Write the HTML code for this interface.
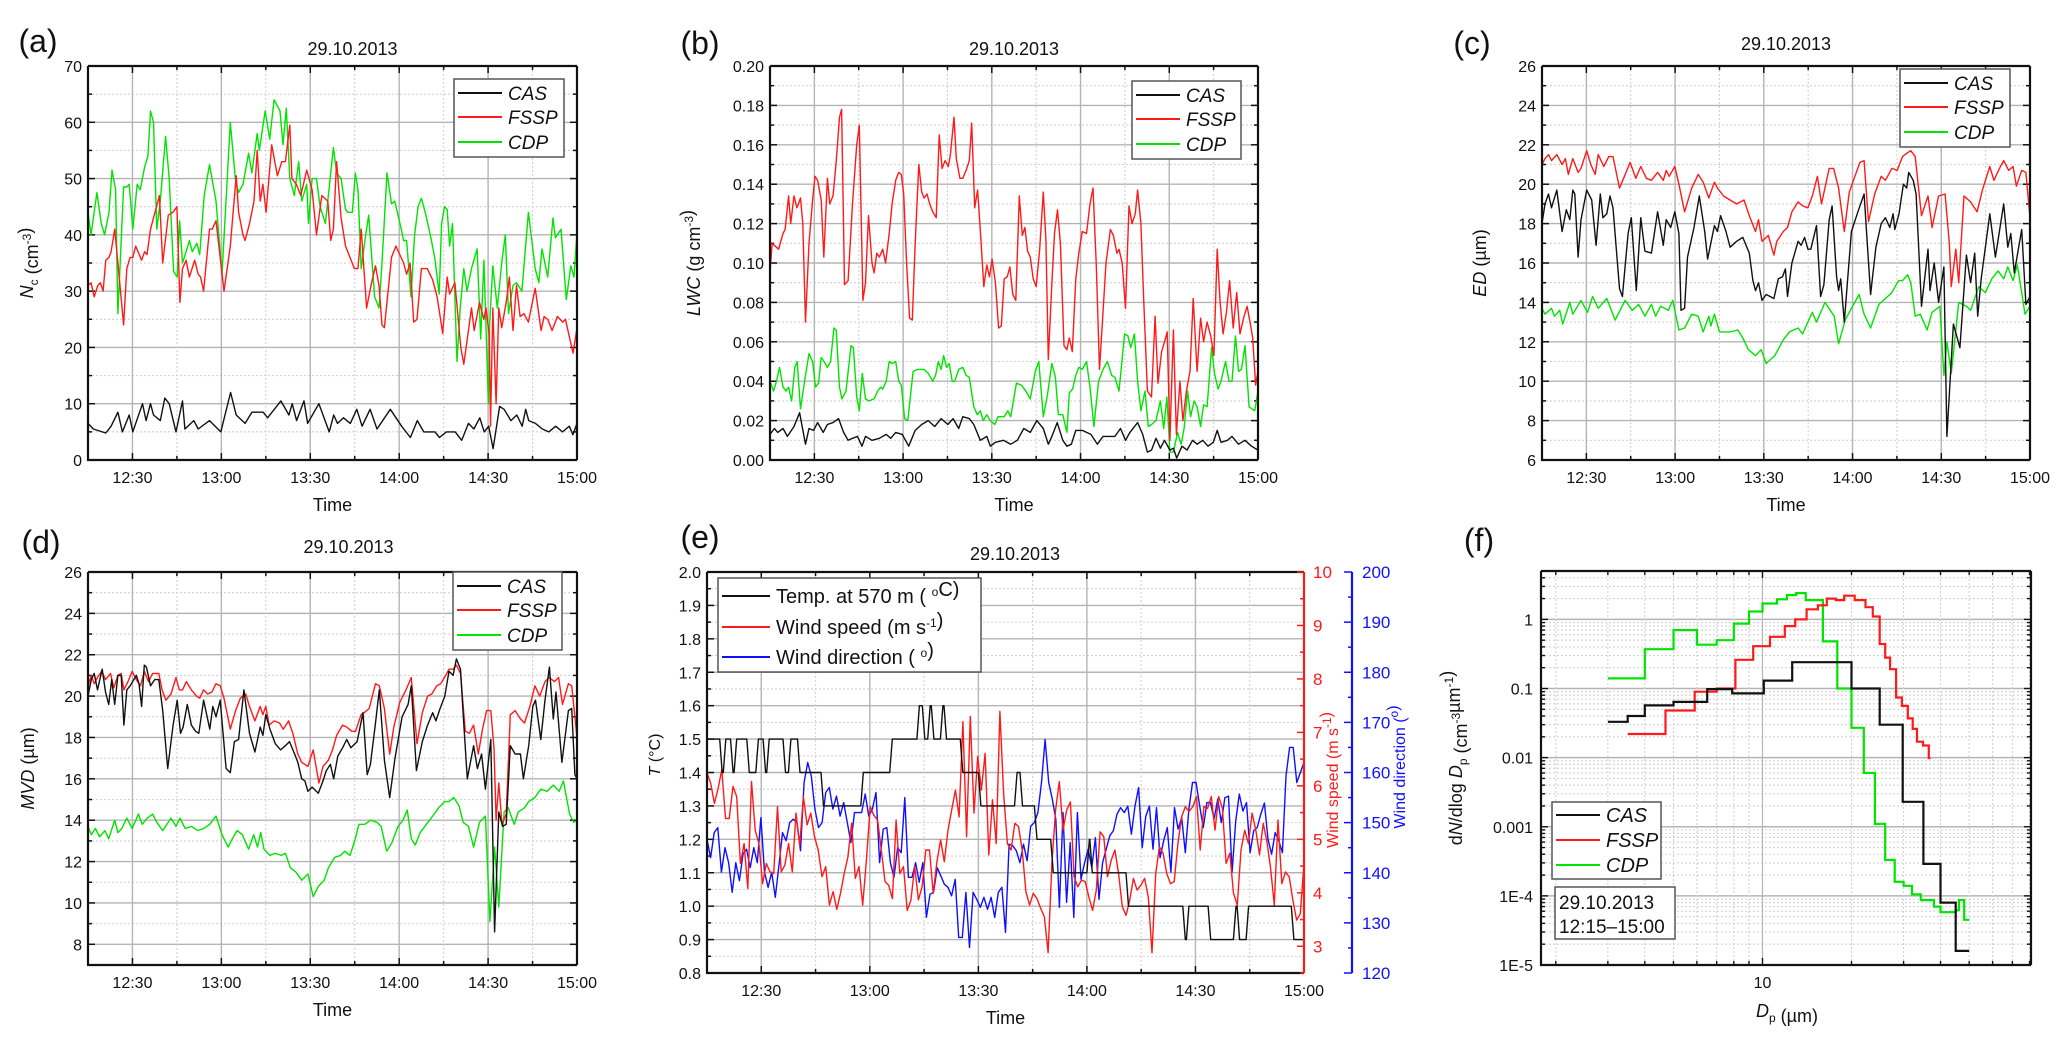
<!DOCTYPE html>
<html><head><meta charset="utf-8"><title>29.10.2013 cloud microphysics</title>
<style>
html,body{margin:0;padding:0;background:#fff;}
svg{display:block;font-family:"Liberation Sans",Arial,sans-serif;}
</style></head>
<body>
<svg id="fig" xmlns="http://www.w3.org/2000/svg" width="2067" height="1049" viewBox="0 0 2067 1049">
<rect x="0" y="0" width="2067" height="1049" fill="#fff"/>
<g id="pa"></g>
<g id="pb"></g>
<g id="pc"></g>
<g id="pd"></g>
<g id="pe"></g>
<g id="pf"></g>
</svg>
<script>
// ---------- DATA ----------
const timeTickMinutes=[15,45,75,105,135,165];
const timeTickLabels=['12:30','13:00','13:30','14:00','14:30','15:00'];

const aCAS=[[0,6.5],[1.8,5.5],[6,4.8],[7.8,6],[10.1,8.5],[11.6,5],[13.9,8],[15.1,5],[18.4,10],[19.6,7],[21.1,10],[22.1,8],[24.4,7],[25.9,11],[27.4,10],[29.7,5],[31.9,10.5],[32.7,5.5],[35.7,7],[37.2,5.5],[41,7],[44.8,5],[48.1,12],[50,8],[53,6.5],[55.3,8.5],[59.1,8.5],[60.6,7.5],[65.1,10.5],[67.8,8],[68.9,10],[70.4,7],[72.9,10.5],[74.1,6.5],[77.9,10],[81.4,5],[82.9,8],[84.2,6.5],[86.2,7.5],[88.5,6.5],[90.7,9],[92.5,6],[95.2,9],[97.5,5.5],[102,9],[105.8,6],[108.8,4],[111.1,7],[113.3,5],[117.1,5],[118.6,4],[120.9,5],[123.9,5],[126.1,3.5],[128.4,6.5],[130.2,5.5],[132.2,7.5],[133.7,5],[135.2,6],[136.7,2],[138.9,9.5],[140.4,9],[142.7,7],[144.7,8],[146.5,6],[147.7,9],[148.7,7],[151,6.5],[153.3,5.5],[155.5,5],[157.8,6],[160.1,5],[162.4,6],[163.6,4.5],[165,6.5]];
const aFSSP=[[0,31],[1,31.5],[2.1,29],[3.3,31],[4.2,31.5],[5.1,30],[6,35.5],[7.1,36],[7.8,37],[9,41],[10.1,35],[12,24],[13.1,34],[14.2,36],[15.1,36],[16.1,38],[18.1,35.5],[19.1,37],[19.9,36.5],[21.1,41],[22.1,43],[24.1,47],[25.2,35],[27.1,43.5],[28.6,44],[30,45],[31,28],[31.9,34],[33.1,35.5],[34.2,32.5],[36,35.5],[37.2,33],[38,32.5],[39,30],[41,41],[41.9,41],[43.2,42.5],[45.9,30],[48,38],[50,50.5],[50.8,44],[52.3,40],[53,39],[54.5,42],[56,46],[57.1,55],[58.1,46],[59,49],[60.1,44],[62,56],[63.9,50.5],[65.4,53],[66.6,53],[68.1,59.5],[68.8,50],[70.3,49],[71.8,47],[73.8,51.5],[75.6,48],[77.1,40],[78.9,47],[80.9,46],[81.9,39],[82.8,41],[83.9,53],[85.4,43],[86.9,38],[89.9,34],[91.1,34],[92.2,41],[94,27],[95.5,31],[97,34.5],[98.2,31],[99.2,24],[100,23.5],[102.4,36],[103.9,38],[106.5,35],[107.5,33],[108.7,35],[109.9,24.5],[111,25],[112.5,34],[114.5,34],[116.3,32],[117.8,29],[119.7,22.5],[121.2,32.5],[122,29.5],[123.8,31.5],[125.8,20],[126.8,17],[129.4,27],[130.3,23],[132.1,28],[133.6,25],[134.3,27],[135.4,22],[135.8,6],[136.6,27],[137.7,10],[138.6,27],[139.6,23.5],[141.1,28],[142.2,32.5],[143.4,23],[144.6,31],[145.8,25.5],[147.1,26],[148.6,24.5],[150.9,30.5],[152.9,23],[153.9,25.5],[155.1,25],[156.6,23],[158.4,25.5],[160.2,24.5],[161.1,25],[163.7,19],[165,23.5]];
const aCDP=[[0,44],[1,40],[3,47.5],[4.5,42],[5.6,40],[7.1,44],[8.1,51.5],[9.3,48],[10.1,26],[12,48.5],[13.1,48.5],[13.9,49],[15.1,41],[16.6,49],[17.6,48],[19.1,52],[20.2,54],[21.1,62],[22.1,60],[23.2,41],[24.4,46],[26.2,57.5],[27.4,50],[28.9,33.5],[30.1,32.5],[30.9,42.5],[31.9,35],[33.1,37],[34.2,39],[35.2,37],[36.7,38.5],[37.7,36.5],[39.2,47],[41,52.5],[43.2,46],[45.2,33],[48,60],[49.7,50],[50.8,47.5],[52.3,49],[54.2,54.5],[55.3,51],[57.1,58],[57.8,55],[59.8,62],[61.3,57],[62.8,64],[64.8,62],[65.8,56],[66.9,62.5],[68.1,50],[69.6,47],[71.1,53],[72.1,46],[73.8,49],[74.4,42],[75.6,50],[77.1,50],[78.3,45],[80.1,42],[82.8,55.5],[83.9,51],[85.4,50],[86.9,44.5],[87.7,44],[89.2,44],[90.2,51],[91.1,48],[92.2,34],[93.7,40],[94.7,43.5],[96.7,29],[98.2,27],[99.2,35],[100.9,51],[102.4,45.5],[103.5,46],[105.7,41],[106.5,39],[107.5,39],[109,29],[110.2,40],[111.4,45],[112.5,46.5],[114,43.5],[115.5,40],[117,36],[118.5,29.5],[119.3,42],[120.3,45],[121.2,44.5],[122,38],[123,42],[124.5,17.5],[125.6,27],[126.8,34],[127.9,30],[129.4,34],[131.3,37.5],[132.5,21.5],[133.6,35.5],[135.1,10],[135.5,24],[136.6,34.5],[138.1,27],[139.6,35],[140.8,40],[141.9,26],[143.4,31],[144.6,31.5],[146.4,30],[148.6,44],[150.9,34],[152.1,31.5],[153.2,37.5],[155.1,32.5],[156.9,43],[157.7,39.5],[159.6,41],[161.4,28.5],[162.9,34.5],[164,32.5],[165,40.5]];

const bCAS=[[0,.013],[1.5,.016],[2.6,.014],[4.4,.016],[5.9,.012],[8.1,.017],[10,.024],[12,.008],[13.2,.016],[14.7,.015],[16.1,.019],[18,.014],[19.4,.018],[21.3,.019],[23.2,.021],[24.9,.014],[26.4,.01],[27.9,.011],[29.6,.012],[31.1,.007],[32.3,.012],[34.5,.01],[37,.011],[39.3,.013],[40.8,.011],[42.5,.014],[44.7,.013],[46.9,.007],[49.1,.015],[51.3,.018],[53.5,.02],[55.7,.017],[57.9,.021],[60.1,.018],[61.9,.021],[63.8,.016],[65.2,.022],[67.4,.021],[68.9,.018],[71.1,.01],[73.3,.012],[74.5,.007],[76.2,.009],[78.9,.01],[81.4,.008],[83.6,.01],[85.8,.016],[88,.014],[90.2,.02],[92.4,.016],[94.1,.008],[95.3,.012],[97.1,.019],[99,.01],[100.4,.007],[101.9,.008],[103.4,.015],[105.6,.015],[108.5,.013],[110.7,.008],[112.6,.012],[114.4,.012],[116.6,.012],[118.5,.016],[120.2,.01],[121.7,.014],[124.3,.019],[126,.013],[127.6,.004],[129,.005],[130.5,.011],[132,.006],[133.4,.01],[135.2,.005],[136.4,.006],[137.5,.001],[139.3,.007],[141,.005],[142.9,.01],[144.4,.008],[146.3,.01],[148.1,.007],[149.9,.009],[151.2,.015],[152.5,.009],[154.7,.01],[156.2,.012],[158.4,.008],[160.6,.01],[162.8,.007],[165,.005]];
const bFSSP=[[0,.095],[.7,.11],[2.9,.107],[4.4,.115],[5.1,.117],[6.3,.134],[7,.12],[8.1,.134],[9.1,.128],[10.3,.133],[11.1,.12],[12,.07],[13.2,.11],[14.4,.132],[15.2,.144],[16.1,.142],[17.3,.132],[18.2,.103],[19.4,.143],[20.2,.13],[21.3,.134],[22.3,.15],[23.5,.174],[24.2,.178],[25.2,.089],[26.4,.091],[27.9,.13],[29.3,.16],[30.2,.17],[31.4,.081],[32.3,.09],[33.3,.124],[34.5,.1],[35.2,.095],[36.1,.105],[37,.103],[38.1,.107],[39.1,.1],[40.3,.115],[41.3,.13],[42.5,.142],[43.5,.146],[44.4,.145],[45.2,.135],[46.2,.1],[47.2,.072],[48.1,.071],[49.1,.11],[50.3,.15],[51.3,.136],[52.1,.133],[53.1,.135],[54,.13],[55,.126],[56.2,.123],[57.2,.165],[58.2,.148],[59.2,.152],[60.3,.149],[61,.155],[62.2,.174],[63,.153],[64.2,.143],[65.2,.143],[66.3,.147],[67.4,.152],[68.2,.171],[69.2,.128],[70.2,.137],[71.3,.112],[72.3,.088],[73.3,.099],[74.2,.093],[75.1,.102],[76.2,.09],[77.3,.067],[78.2,.068],[79.2,.092],[80.2,.093],[81.1,.098],[82.1,.084],[83.1,.081],[84.3,.134],[85.3,.114],[86.2,.118],[87.1,.106],[88,.103],[89,.092],[90,.088],[91.2,.107],[92.4,.136],[93.3,.112],[94.1,.051],[95.3,.09],[96.2,.115],[97.2,.127],[98.2,.11],[99.4,.058],[100.4,.056],[101.2,.062],[102.2,.055],[103.4,.092],[104.4,.105],[105.6,.116],[107,.115],[108.2,.13],[109.2,.138],[110.3,.1],[111.4,.046],[112.6,.075],[113.6,.1],[115.1,.117],[116.1,.114],[117.3,.105],[118,.107],[119.1,.1],[120.2,.077],[121.4,.129],[122.4,.12],[123.5,.125],[124.3,.137],[125.4,.12],[126.4,.08],[127.6,.035],[129,.032],[130.2,.073],[131.2,.039],[132.4,.055],[133.4,.06],[134.3,.065],[135.2,.01],[136.4,.066],[137.4,.013],[138.6,.04],[139.6,.02],[140.8,.035],[142,.045],[143.1,.082],[144.4,.045],[145.6,.072],[146.6,.06],[147.8,.07],[149,.063],[150.1,.053],[151.2,.107],[152.2,.08],[153.2,.064],[154.3,.075],[155.4,.091],[156.6,.067],[157.8,.085],[158.9,.064],[160.1,.072],[161.3,.078],[162.3,.07],[163.2,.062],[164.2,.038],[165,.045]];
const bCDP=[[0,.04],[1.2,.035],[2.2,.04],[3.2,.047],[4.4,.037],[5.4,.035],[6.3,.037],[7.3,.03],[8.4,.047],[9.2,.05],[10.3,.026],[11.7,.04],[13.2,.054],[14.4,.05],[15.4,.037],[16.4,.039],[17.3,.052],[18.3,.05],[19.4,.047],[20.5,.05],[21.6,.067],[22.4,.066],[23.5,.037],[24.3,.031],[25.7,.035],[27.4,.058],[28.2,.057],[29.3,.032],[30.2,.025],[31.2,.044],[32.3,.031],[33.4,.03],[35.2,.031],[36.4,.035],[37.4,.037],[38.1,.036],[39.3,.04],[40.3,.05],[41.3,.049],[42.5,.05],[43.5,.04],[44.4,.038],[45.5,.021],[46.6,.02],[48.4,.045],[49.9,.046],[52.1,.046],[53.5,.044],[55,.04],[56,.043],[56.9,.05],[57.9,.046],[58.7,.053],[59.7,.047],[60.6,.049],[61.6,.04],[62.5,.04],[63.8,.046],[65.2,.047],[66.3,.043],[67.4,.042],[68.9,.027],[70.1,.023],[71.1,.025],[72.1,.02],[73.3,.023],[74.5,.02],[76,.018],[77.1,.022],[79.2,.022],[80.4,.025],[81.4,.022],[83.3,.039],[85,.038],[86.5,.035],[88,.031],[89.7,.045],[90.9,.05],[92.4,.022],[93.8,.033],[95.3,.049],[96.5,.042],[97.5,.023],[99,.023],[100.4,.014],[101.2,.034],[102.3,.036],[103.4,.043],[104.4,.047],[105.6,.046],[107,.05],[108.2,.037],[109.5,.017],[111.1,.04],[112.6,.046],[114.1,.05],[115.5,.043],[116.6,.042],[118,.035],[119.9,.064],[121,.063],[122,.057],[123.2,.064],[124.3,.04],[125.4,.025],[126.8,.035],[127.9,.017],[129,.018],[130.5,.02],[132,.03],[133.1,.016],[134.2,.032],[135.2,.004],[136.4,.004],[137.8,.014],[139,.008],[140,.016],[141.2,.035],[142.2,.022],[143.4,.03],[144.4,.027],[145.6,.017],[146.6,.028],[147.8,.027],[149.3,.057],[150.3,.044],[151.5,.036],[152.5,.04],[154,.05],[155.2,.04],[156.2,.04],[157.4,.063],[158.4,.045],[159.4,.046],[160.6,.058],[162,.027],[163.9,.025],[165,.035]];

const cCAS=[[0,18],[1,19],[2.2,19.5],[3.2,18.8],[5,19.7],[6.8,17.6],[8.2,18.7],[9.4,18.2],[10.4,19.7],[11.1,19.5],[12.2,16.3],[13.2,18.2],[15.1,19.7],[16.8,19.2],[18.3,16.9],[19.7,19.5],[20.6,18.3],[21.9,18.5],[23,19.4],[24,18.8],[26.2,14.7],[27.2,14.3],[29.1,17.5],[30.2,18.3],[31.9,14.6],[33.4,18.3],[34.8,16.6],[37,16.5],[39.1,18.6],[41,16.9],[42,18.2],[43.5,17.8],[44.9,18.6],[46.3,17.5],[47,13.6],[48.2,13.7],[49.2,16.3],[51.4,17.8],[53.2,19.4],[55,17.6],[56,16.2],[58.3,17.9],[59.3,17.6],[60.4,18.4],[62.2,17.6],[63.6,16.8],[65.8,17.1],[67.9,17.3],[70.1,16.5],[71.3,15.1],[72.2,14.6],[73.2,15],[74.4,14.1],[75.8,14.4],[78.4,14.2],[79.9,15.2],[81.3,15.3],[82.3,15.7],[83,14.3],[84.5,16],[86.6,17.1],[87.6,16.9],[88.8,17.3],[89.9,16.7],[90.9,16.7],[92.8,17.9],[94.2,14.3],[95.3,14.9],[97.1,18.2],[98.1,18.9],[99.6,15.3],[100.3,14.6],[101,15.2],[102.2,13],[104.6,17.6],[106.8,18.6],[108.9,19.5],[111.1,14.4],[112.9,16.8],[114.7,18],[116.1,18.3],[117.6,17.8],[118.7,18.5],[119.3,17.7],[120.7,18.5],[122.2,20],[123.3,19.8],[124,20.6],[125.5,20.2],[126.5,19.5],[128.3,13.8],[130.5,16.7],[131.2,14.6],[132.6,16],[134.1,14],[135.9,15.8],[136.9,7.2],[139.1,12.9],[141.3,11.7],[143.5,16.4],[144.9,15],[146.3,16.5],[147.3,13.3],[148.5,15.2],[151.4,18.5],[153.3,16.3],[156.1,19],[157.5,16.8],[158.5,17.5],[159.7,15.5],[162.2,17.7],[163.6,13.9],[165,14.3]];
const cFSSP=[[0,21],[1,21.3],[2.2,21.5],[3.2,21.2],[5,21.5],[6.8,21],[7.9,21.3],[8.9,20.5],[10.4,21.3],[12.2,20.6],[13.2,20.8],[15.1,21.7],[16.5,21],[18,20.5],[19,21.5],[20.9,20.9],[22.6,21.4],[24,21.4],[26.2,19.8],[27.6,20.3],[29.8,21.1],[31.7,20.3],[33.4,20.9],[35.3,20.3],[37,20.2],[39.1,20.6],[41,20.2],[42,20.7],[43,20.4],[44.9,20.9],[46.3,20],[48.2,18.6],[50.6,19.8],[52.8,20.5],[54.5,20.1],[56.4,19.3],[58.3,20.1],[59.3,19.8],[61.4,19.4],[63.6,19.2],[65.8,19],[68.3,19.2],[70.1,18.4],[72.2,17.6],[73.2,18.2],[74.4,17.1],[76.5,17.4],[78.4,16.4],[79.4,17.1],[81.6,17.6],[83,17.8],[84.5,18.6],[86.6,19.1],[88.1,18.9],[89.9,18.8],[91.4,19.4],[93.1,20.4],[94.5,19],[97.1,20.8],[98.6,20.8],[100.3,19.8],[102.2,17.6],[103.9,19.6],[105.8,20.4],[107.5,21.1],[108.9,21.2],[110.4,18.1],[112.5,19.5],[114.7,20.4],[116.1,20.2],[118.3,20.8],[120.1,20.7],[121.9,21.4],[123.6,21.6],[124.7,21.7],[126.2,21.4],[128.3,18.4],[130.5,19.4],[131.9,17.8],[134.1,19.4],[136.3,19.5],[137.7,17],[138.4,14.8],[139.9,16.7],[140.9,15],[142.7,19.4],[144.9,19.1],[147.1,18.6],[148.9,19.7],[151.4,20.9],[152.8,20.2],[155,20.9],[156.1,21.2],[157.8,20.7],[159.3,20.9],[160.4,19.9],[162.2,20.7],[163.6,20.6],[165,18.3]];
const cCDP=[[0,13.7],[1,13.4],[3.2,13.7],[4.2,13.3],[6,13.6],[7,12.9],[9.4,14],[10.4,13.4],[13.2,14.1],[15.4,13.5],[17.1,14.3],[19,13.7],[21.9,14.2],[24.7,13.1],[28.1,14.1],[30.5,13.6],[32.7,13.9],[34.8,13.3],[37,13.9],[38.4,13.3],[40.1,13.8],[42.7,13.6],[44.2,14.1],[46.3,12.6],[48.2,12.7],[50.6,13.4],[52.8,13.3],[54.5,12.5],[56.4,13.3],[57.1,12.8],[58.3,13.4],[60,12.5],[63.6,12.5],[66.2,12.6],[67.9,12.2],[69.8,11.6],[72.2,11.3],[74.1,11.6],[75.8,10.9],[78.7,11.3],[81.6,12.1],[83.7,12.5],[86.6,12.7],[88.1,12.4],[91.4,13.5],[92.8,13],[95.7,14],[98.8,13.3],[100.3,11.9],[102.5,13.1],[104.6,13.7],[107.2,14.4],[108.9,13.4],[111.1,12.7],[113.9,13.9],[116.1,14.2],[118.3,14.5],[120.5,15.1],[121.9,15.1],[123.6,15.4],[124.7,15],[126.2,13.3],[127.9,13.4],[130.2,12.6],[131.9,13.5],[134.5,13.8],[135.9,10.3],[136.9,12],[138.4,10.4],[140.9,14],[143.5,13.8],[144.9,13.6],[147.7,14.8],[149.9,14.5],[152.1,15.2],[154.2,15.6],[156.1,15.2],[157.5,15.8],[159.3,15.1],[160.7,15.9],[162.2,14.5],[163.3,13.4],[165,13.8]];

const dCAS=[[0,20],[1.1,20.8],[2.1,21.1],[3.2,20.3],[4.8,21.3],[5.9,20.2],[7,19.6],[8,20.8],[9,19.6],[10.1,21],[11.2,21],[12.1,18.6],[13.1,20.3],[14.2,20.5],[16.3,21],[17.2,20.6],[18.1,19.5],[19,21.5],[19.7,21.4],[21.1,20.5],[22.5,20.8],[23.9,20.8],[25.2,19.3],[26.9,16.5],[28.7,18.6],[30.1,19.8],[31.2,18.2],[32.1,18.5],[33.5,19.6],[34.9,18.6],[36.3,18.3],[37.4,18.2],[39,19.8],[41.1,18.4],[42.1,19.5],[43.2,19],[44.6,19.8],[46.6,16.5],[48,16.3],[49.4,17.8],[50.8,17.9],[52.6,20.3],[54.5,18.2],[56.3,17.3],[58.1,18.5],[59,18.1],[60,19.1],[61.4,18.4],[63.2,17.7],[65,17.4],[66.6,17.6],[68,17.8],[69.7,17.2],[70.8,16.8],[72.1,16],[73.2,15.9],[74.2,15.4],[75.6,15.6],[77.7,15.3],[79.3,15.9],[80.4,16.4],[81.8,16.7],[82.9,16],[84.3,17.1],[85.9,17.5],[87.3,17.9],[88.7,17.5],[90.8,17.8],[92.8,19.2],[94.2,16.2],[95.3,16.7],[97,18.7],[98.3,20.3],[100,16.9],[101.8,15.1],[103.6,17],[106,19],[108,19.6],[109.1,20.5],[110.8,16.4],[112.8,17.8],[114.6,18.6],[116.3,19.2],[117.4,18.8],[118.8,19.4],[120.4,20],[121.8,21.2],[123.2,21],[124.3,21.8],[125.7,21.3],[126.6,19.1],[128,16],[130.1,17.6],[131.4,16.5],[132.8,17.2],[134.1,15.5],[135.9,17.9],[137.2,8.6],[138.6,14.4],[139.9,13.7],[141.1,13.8],[142.5,17.6],[144.1,17.2],[145.9,17.2],[146.9,16],[148.7,17.6],[150.1,19.5],[151,19.8],[152.8,17.9],[154.2,19.8],[155.7,21.4],[157,18.9],[157.9,20.2],[159.9,16.8],[162.1,19.3],[163.2,19.4],[164.3,16.2],[165,16]];
const dFSSP=[[0,20.5],[1.1,21],[2.1,20.6],[3.2,20.9],[4.6,21.2],[5.9,20.8],[7.6,21.1],[8.7,20.4],[10.1,21],[11.2,21.1],[12.1,20.3],[13.5,20.7],[14.9,21.2],[16.3,20.8],[17.7,20.5],[19,21.2],[20.4,20.7],[21.8,21.1],[23.9,21.1],[25,20.3],[26.3,19.8],[28,20.1],[29.7,20.9],[30.8,20.3],[31.9,20.3],[33.2,20.7],[34.9,20.3],[36.6,20],[37.7,19.9],[39,20.3],[40.4,20.1],[41.8,20.2],[43.2,20.6],[44.6,20.5],[45.9,19.9],[48,18.4],[49.8,19.3],[51.4,19.9],[53.2,20.1],[54.5,19.5],[56.3,18.8],[58.1,19.5],[59,19.1],[60,19.5],[61.1,18.6],[62.8,18.8],[64.6,18.7],[65.9,18.4],[67.7,18.8],[69.1,18.2],[70.8,17.2],[72.1,16.8],[74.2,16.6],[76,17.4],[77.9,15.8],[79.3,16.6],[81.1,16.9],[82.5,17.4],[83.9,18.1],[85.9,18.6],[87.3,18.5],[89,18.3],[90.3,18.3],[92.1,19.1],[93.2,19.2],[94.9,19.4],[97,20.6],[98.3,20.5],[100,19.4],[101.8,17.2],[103.2,18.5],[105.2,19.7],[107.3,20.3],[109.1,20.9],[111,17.7],[112.8,19.2],[114.6,20],[116,20.1],[117.7,20.5],[119,20.6],[120.7,21],[121.8,21.3],[123.2,21.3],[124.3,21.5],[125.7,21.1],[127.3,18.3],[128.7,18.2],[130.1,18.6],[131.7,17.2],[133.1,18.4],[134.5,19.3],[135.9,19.3],[137,17.5],[137.7,14],[138.6,15.8],[139.7,13.8],[141.1,14.3],[142.5,19.1],[144.1,19.3],[145.9,18.9],[147.3,18.7],[149.1,19.5],[150.8,20.5],[152.4,20],[154.2,20.7],[155.6,20.9],[157.4,20.7],[158.8,20.9],[160.1,19.6],[162.1,20.6],[163.2,20.5],[165,18]];
const dCDP=[[0,13.7],[1.1,13.3],[2.5,13.6],[3.9,13.2],[5.7,13.5],[7,13.1],[9,14],[10.1,13.4],[11.4,13.6],[13.1,14.1],[14.9,13.6],[17,14.3],[18.3,13.8],[20,14.1],[21.8,14.3],[23.2,13.9],[25.2,13.5],[28,14.1],[29.7,13.7],[31,14.1],[32.8,13.6],[34.9,13.7],[37,13.5],[39,13.6],[41.1,13.8],[43.2,14.2],[45.2,13.3],[47.3,12.7],[48.7,13.1],[50.3,13.5],[52.1,13.3],[54.2,12.6],[55.9,13.3],[57.2,12.7],[58.3,13.4],[59.4,12.6],[61.4,12.3],[63.2,12.4],[65.2,12.3],[66.6,12.4],[68.3,11.7],[70.1,11.5],[72.1,11.1],[74.2,11.4],[76,10.3],[77.7,10.8],[79.7,11.1],[81.1,11.7],[83.2,12.2],[85.2,12.3],[86.6,12.5],[88.4,12.3],[90,13],[91.4,13.8],[93.4,13.8],[95.4,14],[97.5,13.9],[98.9,13.7],[100.8,12.5],[102.5,12.9],[104.6,13.7],[106.3,14],[107.7,14.5],[109.1,13.1],[110.4,12.8],[112.1,13.4],[114.2,13.8],[116.3,14.2],[118.3,14.6],[120.4,14.9],[121.8,14.9],[123.4,15.1],[125.2,14.7],[126.6,13.9],[128.4,13.7],[130.1,12.7],[132.1,13.9],[134.1,14.2],[135.6,9.1],[137.2,12.7],[138.6,9.8],[140.4,14.4],[141.8,14.6],[143.8,13.8],[145.2,14.4],[147.3,14.6],[148.7,14.9],[150.8,15.1],[152.8,15.5],[154.9,15.4],[157,15.7],[159,15.4],[160.4,15.9],[162.5,14.3],[163.9,13.9],[165,14]];

// panel (e): temperature (step changes: [minute, value]), wind speed and direction sampled ~1 min
const eTemp=[[0,1.5],[3.5,1.4],[4.5,1.5],[6.5,1.4],[7.5,1.5],[11,1.4],[13.5,1.5],[15.5,1.4],[16.5,1.5],[21,1.4],[22.5,1.5],[25,1.4],[31.5,1.3],[42.5,1.4],[50.5,1.5],[58,1.6],[59.5,1.5],[61,1.6],[62,1.5],[64.5,1.6],[65.5,1.5],[70,1.4],[75,1.3],[85,1.4],[86.5,1.3],[90.5,1.2],[95,1.1],[105,1.2],[105.8,1.1],[115.8,1.0],[131.5,0.9],[132.5,1.0],[138.5,0.9],[145.5,1.0],[146.5,0.9],[149,1.0],[161.5,0.9]];
const eWindSpeed=[6.24,6.05,5.67,5.95,6.3,5.39,5.39,5.99,5.8,4.55,4.92,4.08,6.08,5.17,4.92,4.17,4.55,4.39,4.36,5.61,4.39,4.52,4.92,4.39,5.49,4.89,5.8,5.27,5.49,5.05,4.8,4.3,4.49,3.77,4.02,3.69,3.99,4.36,4.67,5.3,4.27,4.49,3.77,4.61,5.61,5.45,5.36,4.8,4.21,4.14,3.89,5.36,4.36,4.49,3.67,3.86,4.49,3.87,4.11,4.8,4.8,3.99,4.58,4.99,4.58,5.17,5.55,5.92,5.42,7.2,5.05,7.3,5.49,6.55,5.92,6.61,4.71,5.74,4.92,7.39,5.86,4.92,4.8,5.3,5.24,4.8,4.02,3.77,3.99,3.89,3.71,3.55,2.88,4.55,5.55,6.08,5.17,5.55,5.7,4.3,4.11,4.24,4.21,3.92,3.67,4.05,5.14,5.05,4.3,4.61,4.8,4.36,3.74,3.58,3.86,4.27,4.05,4.14,4.27,3.92,2.88,4.36,4.86,4.74,4.36,4.17,4.21,4.92,5.42,5.61,5.52,5.61,5.8,4.8,5.61,5.58,5.8,5.17,5.8,5.58,4.55,4.74,3.99,3.77,4.8,5.17,4.92,5.49,5.17,4.71,5.3,4.96,4.46,3.77,5.36,4.17,4.39,4.3,3.86,3.49,3.61,4.55];
const eWindDir=[146.7,143,148,149,140.1,145,142,136.1,142,138.4,143.7,144.7,141,145,142,151,140.1,137.1,140.1,135.1,141.4,148,146.4,150,150.7,150,144.4,158,162,159.3,152.7,149,150,156,157,152.7,155.3,151.3,154,150,146,152,152,152,155.7,151.3,152.7,156,142,148.7,149,142,139.1,145,144,155,139.1,139.1,142,138.1,142,131.1,135.7,136.1,141,139.4,137.7,137.1,135.4,138.7,127.1,127.1,136.1,125.1,136.1,134.7,133.1,135.1,132.7,135.1,131.1,136.1,137.1,128.1,145.7,145.4,144.4,142,145.7,142.4,149.3,150,152,158,166.6,158,154.7,150.7,133.1,152,134.1,146,131.1,152,138.7,142,144.7,141,147,134.7,142,144.7,147.4,148.4,151.7,153,152,153.3,147.7,153.3,157,145,151.3,153.3,144.7,153,143,146.4,149,140.1,153,148.7,151,144,152.7,158,158,153.3,149,154,154,150.7,154.7,150,155,155.3,140.1,150.3,155.7,152.3,154,144,148.4,149,151.7,153.9,146.7,143.7,148,146.4,144,159.3,165,165,158,160,162];

// panel (f): size distributions (bin edges in um, dN/dlogDp per bin)
const fCasEdges=[3.0,3.5,4,5,6.5,7.9,10.1,12.6,15.1,20,24.9,29.8,35,40,45,50];
const fCasVals=[0.033,0.04,0.057,0.064,0.098,0.085,0.13,0.24,0.24,0.1,0.03,0.0023,0.00029,0.00008,0.000016];
const fFsspEdges=[3.5,4.7,5.9,7,8.1,9.3,10.6,11.9,12.9,14.1,15.4,16.5,17.7,18.9,20.5,22.3,23.6,24.9,26,27,28.3,29.6,31,32.2,33.3,34.9,36.5,37];
const fFsspVals=[0.022,0.048,0.09,0.1,0.26,0.41,0.56,0.8,1.0,1.4,1.6,2.0,1.9,2.2,1.9,1.5,1.1,0.44,0.28,0.19,0.074,0.056,0.037,0.026,0.017,0.015,0.0098];
const fCdpEdges=[3,4,5,6,7,8,9,10,11.2,12.1,13,14,16,17.9,20,22,24,26,28,30,32,34.3,38,40,45,46.2,48.1,50];
const fCdpVals=[0.14,0.37,0.7,0.43,0.5,0.87,1.3,1.7,1.95,2.25,2.4,1.9,0.48,0.1,0.027,0.006,0.0011,3.3e-4,1.6e-4,1.4e-4,1.05e-4,8.7e-5,7e-5,5.8e-5,6.2e-5,8.7e-5,4.5e-5];
const fYTickLabels=['1E-5','1E-4','0.001','0.01','0.1','1'];

// ---------- DRAWING ----------
const NS='http://www.w3.org/2000/svg';
const RED='#ff1a1a', GREEN='#00e400', BLUE='#1010ff', GRID='#b4b4b4', MINOR='#d2d2d2';
function mk(tag,attrs,parent){const e=document.createElementNS(NS,tag);for(const k in attrs)e.setAttribute(k,attrs[k]);parent.appendChild(e);return e;}
function tx(parent,x,y,s,attrs){const e=mk('text',Object.assign({x:x,y:y,fill:'#111','font-size':16},attrs||{}),parent);e.textContent=s;return e;}
function line(parent,x1,y1,x2,y2,stroke,w,dash){const a={x1:x1,y1:y1,x2:x2,y2:y2,stroke:stroke,'stroke-width':w};if(dash)a['stroke-dasharray']=dash;return mk('line',a,parent);}

function timePanel(g,b,ymin,ymax,ymaj,ystep,dec,rightTicks){
  const fx=t=>b.L+t/165*(b.R-b.L);
  const fy=v=>b.B-(v-ymin)/(ymax-ymin)*(b.B-b.T);
  const gg=mk('g',{},g);
  
  
  const n=Math.round((ymax-ymin)/ystep);
  for(let i=1;i<n;i++){const v=ymin+i*ystep;const maj=Math.abs(v/ymaj-Math.round(v/ymaj))<1e-6;
    const l=line(gg,b.L,fy(v),b.R,fy(v),maj?GRID:MINOR,maj?1.4:1.1,maj?null:'2,2');
    
    }
  for(let t=15;t<165;t+=15){const maj=((t-15)%30)===0;
    const l=line(gg,fx(t),b.T,fx(t),b.B,maj?GRID:MINOR,maj?1.4:1.1,maj?null:'2,2');
    
    }
  const ax=mk('g',{},g);
  
  
  for(let i=0;i<=n;i++){const v=ymin+i*ystep;const maj=Math.abs(v/ymaj-Math.round(v/ymaj))<1e-6;const len=maj?7:4;
    const t1=line(ax,b.L,fy(v),b.L+len,fy(v),'#111',1.5);
    
    
    if(rightTicks){const t2=line(ax,b.R,fy(v),b.R-len,fy(v),'#111',1.5);
      
      }
    if(maj){const lb=tx(ax,b.L-6,fy(v)+6,v.toFixed(dec),{'text-anchor':'end'});
      
      }}
  for(let t=0;t<=165;t+=15){const maj=((t-15)%30)===0;const len=maj?7:4;
    const t1=line(ax,fx(t),b.B,fx(t),b.B-len,'#111',1.5);
    
    
    const t2=line(ax,fx(t),b.T,fx(t),b.T+len,'#111',1.5);
    
    }
  timeTickMinutes.forEach((m,i)=>{const lb=tx(ax,fx(m),b.B+23,timeTickLabels[i],{'text-anchor':'middle'});
    
    });
  const xt=tx(ax,(b.L+b.R)/2,b.B+51,'Time',{'text-anchor':'middle','font-size':18});
  
  
  return {fx:fx,fy:fy,ax:ax};
}
function frame(g,b,rightColor){
  const f=mk('path',{d:`M${b.L},${b.T}H${b.R}M${b.L},${b.T}V${b.B}H${b.R}`,fill:'none',stroke:'#111','stroke-width':2.2},g);
  
  
  const r=line(g,b.R,b.T,b.R,b.B,rightColor||'#111',2.2);
  
  
}
function series(g,pairs,fx,fy,color,name){
  const d=pairs.map((p,i)=>(i?'L':'M')+fx(p[0]).toFixed(1)+','+fy(p[1]).toFixed(1)).join('');
  const p=mk('path',{d:d,fill:'none',stroke:color,'stroke-width':1.4,'stroke-linejoin':'round'},g);
  
  
  return p;
}
function legend(g,x,y,w,h,items,fs,rows,italic){
  const lg=mk('g',{},g);
  
  
  const r=mk('rect',{x:x,y:y,width:w,height:h,fill:'#fff',stroke:'#555','stroke-width':1.5},lg);
  
  
  items.forEach((it,i)=>{
    const yy=y+rows[i];
    const l=line(lg,x+4,yy,x+it.lw,yy,it.c,2);
    
    
    const t=mk('text',{x:x+it.lw+6,y:yy+fs*0.36,'font-size':fs,fill:'#111','font-style':italic?'italic':'normal'},lg);
    t.innerHTML=it.t;
    
    
  });
}
function caption(g,x,y,s,name){const t=tx(g,x,y,s,{'text-anchor':'middle','font-size':18});return t;}
function letter(g,x,y,s){const t=tx(g,x,y,s,{'text-anchor':'middle','font-size':32});}
function ytitle(g,x,y,html,fs,color){const t=mk('text',{x:0,y:0,transform:`translate(${x},${y}) rotate(-90)`,'text-anchor':'middle','font-size':fs||18,fill:color||'#111'},g);t.innerHTML=html;return t;}
const legItems=[{t:'CAS',c:'#111',lw:48},{t:'FSSP',c:RED,lw:48},{t:'CDP',c:GREEN,lw:48}];
const sup=s=>`<tspan dy="-7" font-size="12">${s}</tspan><tspan dy="7"></tspan>`;
const sub=s=>`<tspan dy="5" font-size="12">${s}</tspan><tspan dy="-5"></tspan>`;

function stdPanel(id,b,ymin,ymax,ymaj,ystep,dec,data,leg,title,ttlY,letterXY,ytitleX,ytitleHtml){
  const g=document.getElementById(id);
  const A=timePanel(g,b,ymin,ymax,ymaj,ystep,dec,true);
  const sg=mk('g',{},g);
  
  
  series(sg,data[2],A.fx,A.fy,GREEN,'cdp-line');
  series(sg,data[1],A.fx,A.fy,RED,'fssp-line');
  series(sg,data[0],A.fx,A.fy,'#111','cas-line');
  frame(g,b);
  legend(g,leg[0],leg[1],leg[2],leg[3],legItems,19,[14,38,63],true);
  caption(g,(b.L+b.R)/2+title,ttlY,'29.10.2013','chart-title');
  letter(g,letterXY[0],letterXY[1],letterXY[2]);
  ytitle(g,ytitleX,(b.T+b.B)/2,ytitleHtml);
}
stdPanel('pa',{L:88,R:577,T:66,B:460},0,70,10,5,0,[aCAS,aFSSP,aCDP],[454,79,110,78],20,55,[38,52,'(a)'],33,`<tspan font-style="italic">N</tspan>${sub('c')} (cm${sup('-3')})`);
stdPanel('pb',{L:770,R:1258,T:66,B:460},0,0.2,0.02,0.01,2,[bCAS,bFSSP,bCDP],[1132,81,109,78],0,55,[700,54,'(b)'],700,`<tspan font-style="italic">LWC</tspan> (g cm${sup('-3')})`);
stdPanel('pc',{L:1542,R:2030,T:66,B:460},6,26,2,1,0,[cCAS,cFSSP,cCDP],[1900,69,110,78],0,50,[1472,54,'(c)'],1486,`<tspan font-style="italic">ED</tspan> (µm)`);
stdPanel('pd',{L:88,R:577,T:572,B:965},7,26,2,1,0,[dCAS,dFSSP,dCDP],[453,572,109,78],16,553,[41,553,'(d)'],34,`<tspan font-style="italic">MVD</tspan> (µm)`);

// panel (e)
(function(){
  const g=document.getElementById('pe');
  const b={L:707,R:1304,T:572,B:973};
  const A=timePanel(g,b,0.8,2.0,0.1,0.05,1,false);
  const fr=v=>b.B-(v-2.5)/7.5*(b.B-b.T);
  const fb=v=>b.B-(v-120)/80*(b.B-b.T);
  const sg=mk('g',{},g);
  
  
  const n1=eWindSpeed.length-1, n2=eWindDir.length-1;
  series(sg,eWindDir.map((v,i)=>[i*165/n2,v]),A.fx,fb,BLUE,'wind-direction-line');
  series(sg,eWindSpeed.map((v,i)=>[i*165/n1,v]),A.fx,fr,RED,'wind-speed-line');
  const stepPts=[];
  eTemp.forEach((p,i)=>{if(i===0){stepPts.push(p);}else{stepPts.push([p[0],eTemp[i-1][1]]);stepPts.push([Math.min(165,p[0]+0.7),p[1]]);}});
  stepPts.push([165,eTemp[eTemp.length-1][1]]);
  series(sg,stepPts,A.fx,A.fy,'#111','temperature-line');
  frame(g,b,RED);
  const ra=mk('g',{},g);
  
  
  for(let v=2.5;v<=10.001;v+=0.5){const maj=Math.abs(v-Math.round(v))<1e-6;
    const t=line(ra,b.R,fr(v),b.R-(maj?7:4),fr(v),RED,1.5);
    
    
    if(maj&&v>=3){const l=tx(ra,1313,fr(v)+6,String(Math.round(v)),{fill:RED,'font-size':17});
      
      }}
  ytitle(ra,1338,780,`Wind speed (m s${sup('-1')})`,16,RED);
  const ba=mk('g',{},g);
  
  
  const bl=line(ba,1352,b.T,1352,b.B,BLUE,2.2);
  
  
  for(let v=120;v<=200;v+=5){const maj=v%10===0;
    const t=line(ba,1352,fb(v),1352-(maj?8:4),fb(v),BLUE,1.5);
    
    
    if(maj){const l=tx(ba,1362,fb(v)+6,String(v),{fill:BLUE,'font-size':17});
      
      }}
  ytitle(ba,1405,767,`Wind direction (${sup('o')})`,16,BLUE);
  ytitle(g,660,755,`<tspan font-style="italic">T</tspan> (°C)`,16);
  legend(g,718,578,263,94,[
    {t:`Temp. at 570 m ( ${sup('o')}C)`,c:'#111',lw:52},
    {t:`Wind speed (m s${sup('-1')})`,c:RED,lw:52},
    {t:`Wind direction ( ${sup('o')})`,c:BLUE,lw:52}],20,[18,49,79],false);
  caption(g,1015,560,'29.10.2013','chart-title');
  letter(g,700,548,'(e)');
})();

// panel (f)
(function(){
  const g=document.getElementById('pf');
  const b={L:1541,R:2031,T:571,B:965};
  const lx0=0.251,lx1=1.908,ly0=-5,ly1=0.7;
  const fx=d=>b.L+(Math.log10(d)-lx0)/(lx1-lx0)*(b.R-b.L);
  const fy=v=>b.B-(Math.log10(v)-ly0)/(ly1-ly0)*(b.B-b.T);
  const gg=mk('g',{},g);
  
  
  for(let e=-5;e<=0;e++){for(let m=1;m<=9;m++){const v=m*Math.pow(10,e);if(v>5.01||(e===-5&&m===1))continue;
    const l=line(gg,b.L,fy(v),b.R,fy(v),m===1?GRID:MINOR,m===1?1.4:1.1,m===1?null:'2,2');
    
    }}
  for(let e=0;e<=1;e++){for(let m=1;m<=9;m++){const d=m*Math.pow(10,e);const lg=Math.log10(d);if(lg<=lx0||lg>=lx1)continue;
    const l=line(gg,fx(d),b.T,fx(d),b.B,d===10?GRID:MINOR,d===10?1.2:1.1,d===10?null:'2,2');
    
    }}
  const sg=mk('g',{},g);
  
  
  function steps(edges,vals,color,name){const pts=[];vals.forEach((v,i)=>{pts.push([edges[i],v]);pts.push([edges[i+1],v]);});
    const p=series(sg,pts,fx,fy,color,name);p.setAttribute('stroke-width',2.2);p.setAttribute('stroke-linejoin','miter');}
  steps(fCdpEdges,fCdpVals,GREEN,'cdp-distribution');
  steps(fFsspEdges,fFsspVals,RED,'fssp-distribution');
  steps(fCasEdges,fCasVals,'#111','cas-distribution');
  frame(g,b);
  const ax=mk('g',{},g);
  
  
  for(let e=-5;e<=0;e++){for(let m=1;m<=9;m++){const v=m*Math.pow(10,e);if(v>5.01)continue;const len=m===1?7:4;
    const t1=line(ax,b.L,fy(v),b.L+len,fy(v),'#111',1.4);
    
    
    const t2=line(ax,b.R,fy(v),b.R-len,fy(v),'#111',1.4);
    
    }}
  fYTickLabels.forEach((s,i)=>{const l=tx(ax,b.L-8,fy(Math.pow(10,i-5))+6,s,{'text-anchor':'end'});
    
    });
  for(let e=0;e<=1;e++){for(let m=1;m<=9;m++){const d=m*Math.pow(10,e);const lg=Math.log10(d);if(lg<=lx0||lg>=lx1)continue;const len=d===10?7:4;
    const t1=line(ax,fx(d),b.B,fx(d),b.B-len,'#111',1.4);
    
    
    const t2=line(ax,fx(d),b.T,fx(d),b.T+len,'#111',1.4);
    
    }}
  const xl=tx(ax,fx(10),b.B+23,'10',{'text-anchor':'middle'});
  
  
  const xt=mk('text',{x:1787,y:1017,'text-anchor':'middle','font-size':18,fill:'#111'},ax);
  xt.innerHTML=`<tspan font-style="italic">D</tspan>${sub('p')} (µm)`;
  
  
  ytitle(g,1462,758,`d<tspan font-style="italic">N</tspan>/dlog <tspan font-style="italic">D</tspan>${sub('p')} (cm${sup('-3')}µm${sup('-1')})`);
  legend(g,1552,802,109,77,legItems.map(o=>Object.assign({},o,{lw:48})),20,[13,38,63],true);
  const nb=mk('rect',{x:1555,y:887,width:120,height:52,fill:'#fff',stroke:'#555','stroke-width':1.5},g);
  
  
  const n1=tx(g,1559,909,'29.10.2013',{'font-size':19});
  
  
  const n2=tx(g,1559,933,'12:15–15:00',{'font-size':19});
  
  
  letter(g,1479,551,'(f)');
})();
</script>
</body></html>
